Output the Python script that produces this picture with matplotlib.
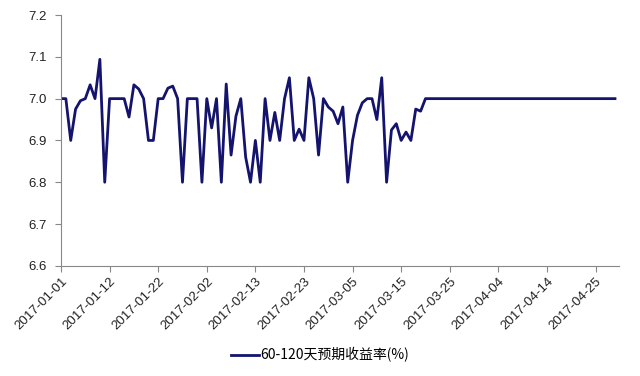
import matplotlib
matplotlib.use('Agg')
import matplotlib.pyplot as plt

# daily yield series
values = [7.0, 7.0, 6.9, 6.975, 6.995, 7.0, 7.033, 7.0, 7.094, 6.8,
          7.0, 7.0, 7.0, 7.0, 6.956, 7.033, 7.023, 7.0, 6.9, 6.9,
          7.0, 7.0, 7.025, 7.03, 7.0, 6.8, 7.0, 7.0, 7.0, 6.8,
          7.0, 6.93, 7.0, 6.8, 7.035, 6.865, 6.958, 7.0, 6.86, 6.8,
          6.9, 6.8, 7.0, 6.9, 6.967, 6.9, 7.0, 7.05, 6.9, 6.927,
          6.9, 7.05, 7.0, 6.865, 7.0, 6.98, 6.97, 6.94, 6.98, 6.8,
          6.9, 6.96, 6.99, 7.0, 7.0, 6.95, 7.05, 6.8, 6.925, 6.94,
          6.9, 6.92, 6.9, 6.975, 6.97] + [7.0] * 40
tick_labels = ['2017-01-01', '2017-01-12', '2017-01-22', '2017-02-02',
               '2017-02-13', '2017-02-23', '2017-03-05', '2017-03-15',
               '2017-03-25', '2017-04-04', '2017-04-14', '2017-04-25']
series_name = '60-120天预期收益率(%)'

plt.rcParams['font.family'] = ['Liberation Sans', 'Noto Sans CJK SC', 'DejaVu Sans']

fig = plt.figure(figsize=(6.4, 3.76), dpi=100)
ax = fig.add_axes([0.0953, 0.293, 0.8717, 0.667])

ax.plot(range(len(values)), values, color='#14146e', linewidth=2.0, label=series_name)

ax.set_xlim(0, 114.8)
ax.set_ylim(6.6, 7.2)
ax.set_yticks([6.6, 6.7, 6.8, 6.9, 7.0, 7.1, 7.2])
ax.set_yticklabels(['%.1f' % v for v in ax.get_yticks()])
ax.set_xticks(range(0, 10 * len(tick_labels), 10))
ax.set_xticklabels(tick_labels, rotation=45, ha='right', rotation_mode='anchor')

for side in ['top', 'right']:
    ax.spines[side].set_visible(False)
for side in ['left', 'bottom']:
    ax.spines[side].set_color('#888888')
    ax.spines[side].set_linewidth(0.8)
ax.tick_params(axis='both', colors='#888888', length=4, width=0.8, labelsize=9.5,
               labelcolor='#222222')
ax.tick_params(axis='y', pad=6)
ax.tick_params(axis='x', pad=3)

fig.legend(loc='center', bbox_to_anchor=(0.5, 0.056), frameon=False,
           handlelength=2.0, handletextpad=0.1,
           prop={'family': ['Noto Sans CJK SC', 'DejaVu Sans'], 'size': 10})

fig.savefig('out.png', dpi=100)
